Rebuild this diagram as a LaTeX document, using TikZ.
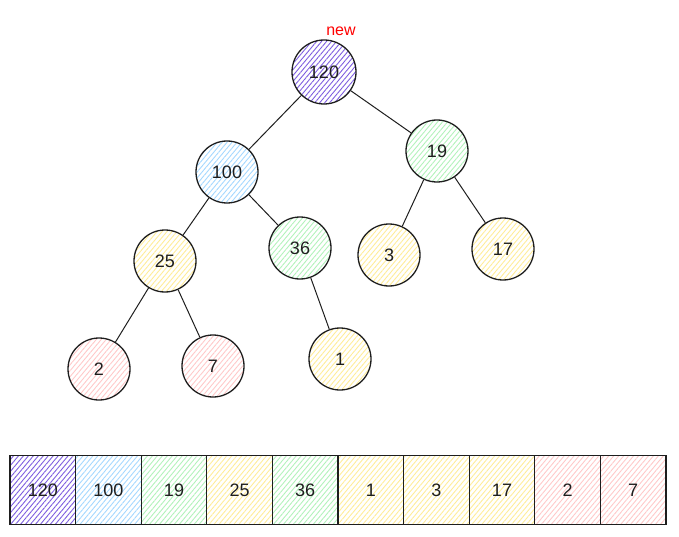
\documentclass[tikz,border=0pt]{standalone}
\usepackage{fontspec}
\setmainfont{Liberation Sans}
\usetikzlibrary{patterns.meta}
\definecolor{cpurple}{HTML}{6741D9}
\definecolor{cblue}{HTML}{A5D8FF}
\definecolor{cgreen}{HTML}{B2F2BB}
\definecolor{cyellow}{HTML}{FFEC99}
\definecolor{cred}{HTML}{FFC9C9}
\definecolor{cink}{HTML}{1E1E1E}
\tikzset{
  hn/.style={circle, draw=cink, line width=1.3pt, minimum size=62pt, inner sep=0pt,
    font=\fontsize{18}{20}\selectfont, text=cink,
    pattern={Lines[angle=50,distance=3.8pt,line width=0.9pt]}, pattern color=#1},
  cell/.style={rectangle, draw=cink, line width=1.3pt, minimum width=65.6pt, minimum height=69pt, inner sep=0pt,
    font=\fontsize{18}{20}\selectfont, text=cink,
    pattern={Lines[angle=50,distance=3.8pt,line width=0.9pt]}, pattern color=#1},
  edge/.style={draw=cink, line width=1pt}
}
\begin{document}
\begin{tikzpicture}[x=1pt,y=-1pt]
\useasboundingbox (0,0) rectangle (679,537);
% tree nodes
\node[hn=cpurple!85, minimum size=64pt] (n120) at (324,72) {120};
\node[hn=cblue] (n100) at (227,172) {100};
\node[hn=cgreen] (n19) at (437,151) {19};
\node[hn=cyellow] (n25) at (165,261) {25};
\node[hn=cgreen] (n36) at (300,248) {36};
\node[hn=cyellow] (n3) at (389,255) {3};
\node[hn=cyellow] (n17) at (503,249) {17};
\node[hn=cred] (n2) at (99,369) {2};
\node[hn=cred] (n7) at (213,366) {7};
\node[hn=cyellow] (n1) at (340,359) {1};
\node[text=red, font=\fontsize{16}{18}\selectfont, anchor=center] (lnew) at (341,31) {new};
% edges
\draw[edge] (n120) -- (n100);
\draw[edge] (n120) -- (n19);
\draw[edge] (n100) -- (n25);
\draw[edge] (n100) -- (n36);
\draw[edge] (n19) -- (n3);
\draw[edge] (n19) -- (n17);
\draw[edge] (n25) -- (n2);
\draw[edge] (n25) -- (n7);
\draw[edge] (n36) -- (n1);
% array
\node[cell=cpurple!85] (a0) at (42.8,490) {120};
\node[cell=cblue] (a1) at (108.4,490) {100};
\node[cell=cgreen] (a2) at (174,490) {19};
\node[cell=cyellow] (a3) at (239.6,490) {25};
\node[cell=cgreen] (a4) at (305.2,490) {36};
\node[cell=cyellow] (a5) at (370.8,490) {1};
\node[cell=cyellow] (a6) at (436.4,490) {3};
\node[cell=cyellow] (a7) at (502,490) {17};
\node[cell=cred] (a8) at (567.6,490) {2};
\node[cell=cred] (a9) at (633.2,490) {7};
\end{tikzpicture}
\end{document}
